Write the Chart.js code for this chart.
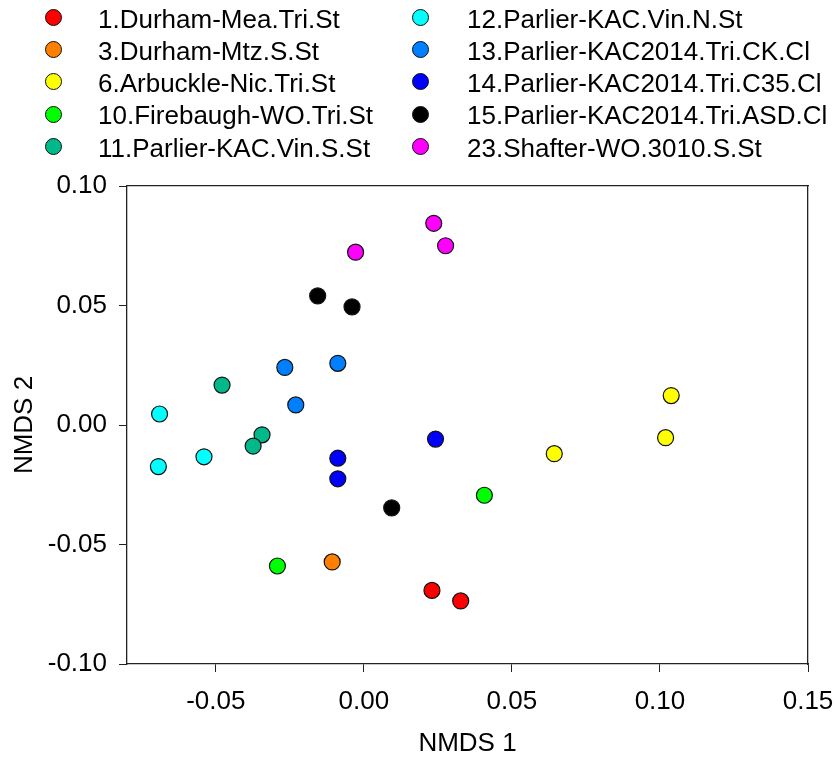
<!DOCTYPE html>
<html>
<head>
<meta charset="utf-8">
<script src="https://cdn.jsdelivr.net/npm/chart.js@4/dist/chart.umd.min.js"></script>
<style>
  body { margin: 0; background: #fff; }
  #wrap { position: relative; width: 837px; height: 757px; font-family: "Liberation Sans", Arial, sans-serif; }
  #legend { position: absolute; left: 0; top: 0; width: 837px; height: 180px; }
  .mark { position: absolute; width: 17px; height: 17px; border-radius: 50%; border: 1px solid #111; box-sizing: border-box; }
  .lbl { position: absolute; font-size: 26px; line-height: 30px; color: #000; white-space: nowrap; }
</style>
</head>
<body>
<div id="wrap">
  <canvas id="myChart" width="837" height="757"></canvas>
  <div id="legend"></div>
</div>
<script>
const groups = [
  "1.Durham-Mea.Tri.St",
  "3.Durham-Mtz.S.St",
  "6.Arbuckle-Nic.Tri.St",
  "10.Firebaugh-WO.Tri.St",
  "11.Parlier-KAC.Vin.S.St",
  "12.Parlier-KAC.Vin.N.St",
  "13.Parlier-KAC2014.Tri.CK.Cl",
  "14.Parlier-KAC2014.Tri.C35.Cl",
  "15.Parlier-KAC2014.Tri.ASD.Cl",
  "23.Shafter-WO.3010.S.St"
];

// NMDS 1 per group
const nmds1 = [
  [0.023, 0.0327],
  [-0.0107],
  [0.0643, 0.1019, 0.1038],
  [-0.0292, 0.0407],
  [-0.0344, -0.0479, -0.0374],
  [-0.069, -0.0694, -0.054],
  [-0.0267, -0.0088, -0.023],
  [-0.0088, -0.0088, 0.0242],
  [-0.0156, -0.004, 0.0094],
  [-0.0028, 0.0236, 0.0276]
];

// NMDS 2 per group
const nmds2 = [
  [-0.0692, -0.0736],
  [-0.0573],
  [-0.012, -0.0053, 0.0123],
  [-0.059, -0.0294],
  [-0.0041, 0.0167, -0.0088],
  [0.0046, -0.0174, -0.0133],
  [0.0241, 0.0258, 0.0084],
  [-0.0139, -0.0225, -0.0059],
  [0.054, 0.0494, -0.0347],
  [0.0723, 0.0844, 0.075]
];

const xTicks = [-0.05, 0.0, 0.05, 0.1, 0.15];
const yTicks = [-0.1, -0.05, 0.0, 0.05, 0.1];

const colors = [
  "#ff0000", "#ff8000", "#ffff00", "#00ff00", "#00b98b",
  "#00ffff", "#0080ff", "#0000ff", "#000000", "#ff00ff"
];

const font = "'Liberation Sans', Arial, sans-serif";

// html legend, two columns
const legendEl = document.getElementById("legend");
groups.forEach((name, i) => {
  const col = i < 5 ? 0 : 1;
  const row = i % 5;
  const cy = 17.5 + row * 32.2;
  const mx = col === 0 ? 53 : 420;
  const tx = col === 0 ? 98 : 467;
  const m = document.createElement("div");
  m.className = "mark";
  m.style.left = (mx - 8.5) + "px";
  m.style.top = (cy - 8.5) + "px";
  m.style.background = colors[i];
  legendEl.appendChild(m);
  const t = document.createElement("div");
  t.className = "lbl";
  t.style.left = tx + "px";
  t.style.top = (cy - 13.7) + "px";
  t.textContent = name;
  legendEl.appendChild(t);
});

const datasets = groups.map((name, i) => ({
  label: name,
  data: nmds1[i].map((x, k) => ({ x: x, y: nmds2[i][k] })),
  backgroundColor: colors[i],
  borderColor: "#111",
  borderWidth: 1.2,
  pointRadius: 8,
  pointHoverRadius: 8
}));

const ctx = document.getElementById("myChart");

const config = {
  type: "scatter",
  data: { datasets: datasets },
  options: {
    responsive: false,
    animation: false,
    devicePixelRatio: 1,
    layout: { padding: { top: 186, right: 29, left: 0, bottom: 0 } },
    plugins: { legend: { display: false }, tooltip: { enabled: false } },
    scales: {
      x: {
        type: "linear",
        position: "bottom",
        min: -0.08,
        max: 0.15,
        afterBuildTicks: (s) => { s.ticks = xTicks.map((v) => ({ value: v })); },
        afterFit: (s) => { s.height = 93; s.paddingLeft = 0; s.paddingRight = 0; },
        ticks: {
          includeBounds: false,
          padding: 14,
          color: "#000",
          font: { family: font, size: 26 },
          callback: (v) => v.toFixed(2)
        },
        grid: { drawOnChartArea: false, drawTicks: true, tickLength: 8, color: "#222", lineWidth: 1 },
        border: { display: true, color: "#222", width: 1.3 },
        title: {
          display: true,
          text: "NMDS 1",
          color: "#000",
          font: { family: font, size: 26, lineHeight: 1 },
          padding: { top: 0, bottom: 0 }
        }
      },
      y: {
        type: "linear",
        position: "left",
        min: -0.1,
        max: 0.1,
        afterBuildTicks: (s) => { s.ticks = yTicks.map((v) => ({ value: v })); },
        afterFit: (s) => { s.width = 127; },
        ticks: {
          padding: 12,
          color: "#000",
          font: { family: font, size: 26 },
          callback: (v) => v.toFixed(2)
        },
        grid: { drawOnChartArea: false, drawTicks: true, tickLength: 8, color: "#222", lineWidth: 1 },
        border: { display: true, color: "#222", width: 1.3 },
        title: {
          display: true,
          text: "NMDS 2",
          color: "#000",
          font: { family: font, size: 26, lineHeight: 1 },
          padding: { top: 12, bottom: 0 }
        }
      },
      xTop: {
        type: "linear",
        position: "top",
        min: -0.08,
        max: 0.15,
        afterFit: (s) => { s.height = 0; },
        ticks: { display: false },
        grid: { display: false },
        border: { display: true, color: "#222", width: 1.3 }
      },
      yRight: {
        type: "linear",
        position: "right",
        min: -0.1,
        max: 0.1,
        afterFit: (s) => { s.width = 0; },
        ticks: { display: false },
        grid: { display: false },
        border: { display: true, color: "#222", width: 1.3 }
      }
    }
  }
};

const myChart = new Chart(ctx, config);
</script>
</body>
</html>
